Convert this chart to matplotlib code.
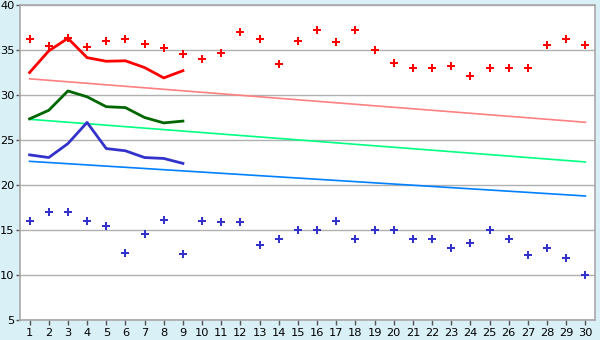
import matplotlib
matplotlib.use("Agg")
import matplotlib.pyplot as plt

days = list(range(1, 31))
red_pts = [36.2, 35.4, 36.3, 35.3, 36.0, 36.2, 35.7, 35.2, 34.6, 34.0,
           34.7, 37.0, 36.2, 33.4, 36.0, 37.2, 35.85, 37.2, 35.0, 33.55,
           33.0, 33.0, 33.2, 32.1, 33.0, 33.0, 33.0, 35.6, 36.2, 35.6]
blue_pts = [16.0, 17.0, 17.0, 16.0, 15.4, 12.4, 14.6, 16.1, 12.3, 16.0,
            15.9, 15.9, 13.3, 14.0, 15.0, 15.0, 16.0, 14.0, 15.0, 15.0,
            14.0, 14.0, 13.0, 13.6, 15.0, 14.0, 12.2, 13.0, 11.9, 10.0]
line_days = list(range(1, 10))
red_line = [32.5, 34.9, 36.3, 34.15, 33.75, 33.8, 33.05, 31.9, 32.7]
green_line = [27.35, 28.3, 30.45, 29.8, 28.7, 28.6, 27.5, 26.9, 27.1]
blue_line = [23.35, 23.05, 24.6, 26.95, 24.05, 23.8, 23.05, 22.95, 22.4]
trend_days = [1, 30]
red_trend = [31.8, 26.97]
green_trend = [27.3, 22.56]
blue_trend = [22.63, 18.78]
y_ticks = [5, 10, 15, 20, 25, 30, 35, 40]

bg = "#D9F0F7"
fig = plt.figure(figsize=(6, 3.4), dpi=100, facecolor=bg)
ax = fig.add_axes([20/600, 1-320/340, 575/600, 315/340])
ax.set_facecolor("white")

ax.plot(trend_days, red_trend, color="#FF8080", lw=1.2, zorder=2)
ax.plot(trend_days, green_trend, color="#00FF80", lw=1.2, zorder=2)
ax.plot(trend_days, blue_trend, color="#0080FF", lw=1.2, zorder=2)

ax.plot(line_days, red_line, color="#FF0000", lw=2, zorder=3)
ax.plot(line_days, green_line, color="#006600", lw=2, zorder=3)
ax.plot(line_days, blue_line, color="#3333CC", lw=2, zorder=3)

ax.scatter(days, red_pts, marker="P", s=26, color="#FF0000", linewidths=0, zorder=4)
ax.scatter(days, blue_pts, marker="P", s=26, color="#3333CC", linewidths=0, zorder=4)

ax.set_xlim(0.5, 30.5)
ax.set_ylim(5, 40)
ax.set_yticks(y_ticks)
ax.set_xticks(days)
ax.grid(axis="y", color="#B0B0B0", lw=1)
ax.set_axisbelow(True)
for s in ax.spines.values():
    s.set_color("#A8A8A8")
    s.set_linewidth(1.2)
ax.tick_params(axis="both", colors="#555555", labelcolor="black", labelsize=8.2,
               length=3.5, width=1)
ax.tick_params(axis="y", length=3, pad=1)
ax.tick_params(axis="x", pad=2)
fig.savefig("out.png", dpi=100, facecolor=bg)
